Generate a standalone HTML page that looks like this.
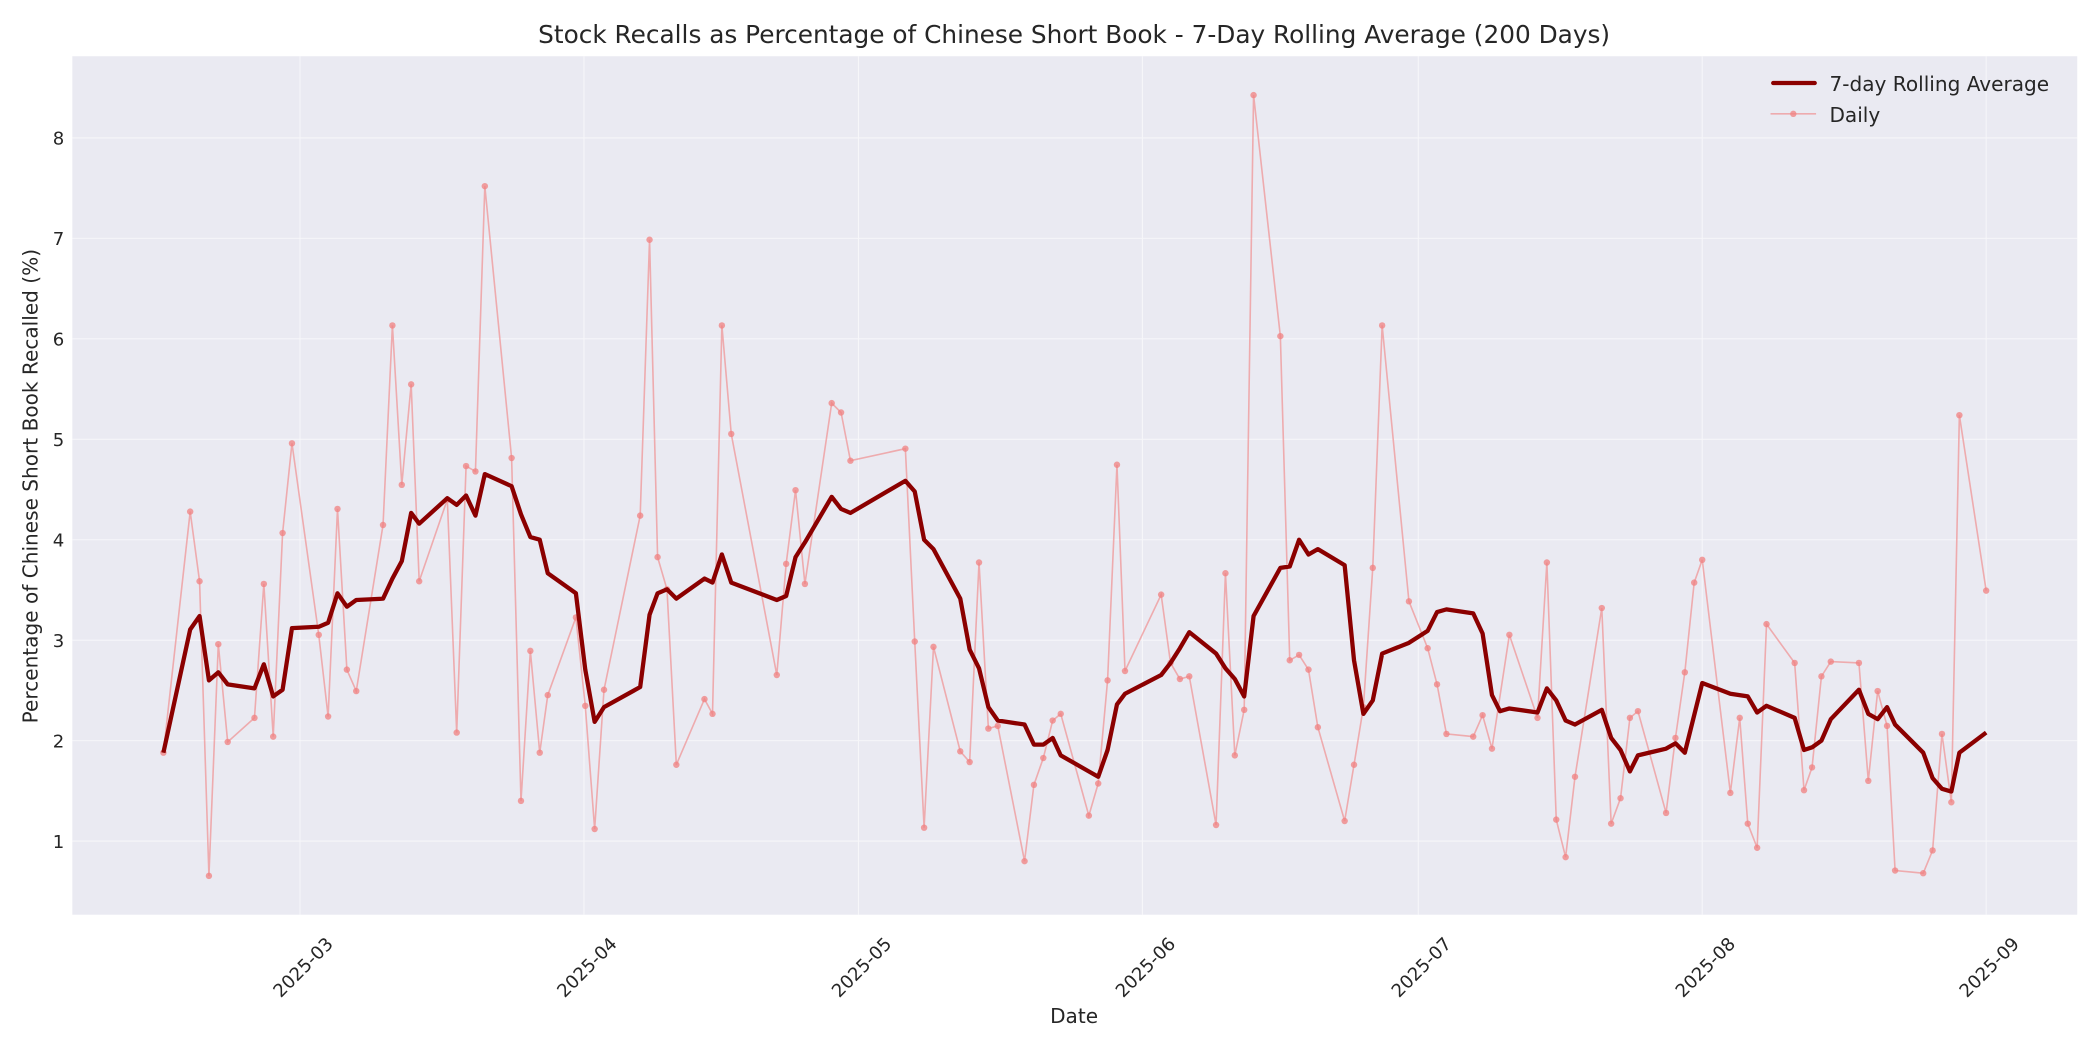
<!DOCTYPE html>
<html><head><meta charset="utf-8"><style>html,body{margin:0;padding:0;background:#fff}svg{display:block}</style></head>
<body>
<svg width="2100" height="1050" viewBox="0 0 1568 784" xmlns="http://www.w3.org/2000/svg" font-family="DejaVu Sans, Liberation Sans, sans-serif">
<rect x="0" y="0" width="1568" height="784" fill="#fff"/>
<rect x="54" y="42" width="1497" height="641" fill="#eaeaf2"/>
<g stroke="#fff" stroke-width="0.8" opacity="0.6">
<line x1="54" x2="1551" y1="628" y2="628"/><line x1="54" x2="1551" y1="553" y2="553"/><line x1="54" x2="1551" y1="478" y2="478"/><line x1="54" x2="1551" y1="403" y2="403"/><line x1="54" x2="1551" y1="328" y2="328"/><line x1="54" x2="1551" y1="253" y2="253"/><line x1="54" x2="1551" y1="178" y2="178"/><line x1="54" x2="1551" y1="103" y2="103"/>
<line y1="42" y2="683" x1="224" x2="224"/><line y1="42" y2="683" x1="436" x2="436"/><line y1="42" y2="683" x1="641" x2="641"/><line y1="42" y2="683" x1="853" x2="853"/><line y1="42" y2="683" x1="1059" x2="1059"/><line y1="42" y2="683" x1="1271" x2="1271"/><line y1="42" y2="683" x1="1483" x2="1483"/>
</g>
<g font-size="13.5" fill="#262626" text-anchor="end">
<text x="48" y="633">1</text><text x="48" y="558">2</text><text x="48" y="483">3</text><text x="48" y="408">4</text><text x="48" y="333">5</text><text x="48" y="258">6</text><text x="48" y="183">7</text><text x="48" y="108">8</text>
</g>
<g font-size="13.5" fill="#262626" text-anchor="middle">
<text transform="translate(226,722) rotate(-45)" dy="5">2025-03</text>
<text transform="translate(438,722) rotate(-45)" dy="5">2025-04</text>
<text transform="translate(643,722) rotate(-45)" dy="5">2025-05</text>
<text transform="translate(855,722) rotate(-45)" dy="5">2025-06</text>
<text transform="translate(1061,722) rotate(-45)" dy="5">2025-07</text>
<text transform="translate(1273,722) rotate(-45)" dy="5">2025-08</text>
<text transform="translate(1485,722) rotate(-45)" dy="5">2025-09</text>
</g>
<text x="802" y="32" font-size="18.5" text-anchor="middle" fill="#262626">Stock Recalls as Percentage of Chinese Short Book - 7-Day Rolling Average (200 Days)</text>
<text x="802" y="764" font-size="15" text-anchor="middle" fill="#262626">Date</text>
<text transform="translate(28,363) rotate(-90)" font-size="15" text-anchor="middle" fill="#262626">Percentage of Chinese Short Book Recalled (%)</text>
<polyline id="daily" fill="none" stroke="#f08080" stroke-opacity="0.6" stroke-width="1.2" points="122,562 142,382 149,434 156,654 163,481 170,554 190,536 197,436 204,550 211,398 218,331 238,474 245,535 252,380 259,500 266,516 286,392 293,243 300,362 307,287 313,434 334,373 341,547 348,348 355,352 362,139 382,342 389,598 396,486 403,562 409,519 430,461 437,527 444,619 451,515 478,385 485,179 491,416 498,440 505,571 526,522 532,533 539,243 546,324 580,504 587,421 594,366 601,436 621,301 628,308 635,344 676,335 683,479 690,618 697,483 717,561 724,569 731,420 738,544 745,542 765,643 772,586 779,566 786,538 792,533 813,609 820,585 827,508 834,347 840,501 867,444 874,495 881,507 888,505 908,616 915,428 922,564 929,530 936,71 956,251 963,493 970,489 977,500 984,543 1004,613 1011,571 1018,528 1025,424 1032,243 1052,449 1066,484 1073,511 1080,548 1100,550 1107,534 1114,559 1127,474 1148,536 1155,420 1162,612 1169,640 1176,580 1196,454 1203,615 1210,596 1217,536 1223,531 1244,607 1251,551 1258,502 1265,435 1271,418 1292,592 1299,536 1305,615 1312,633 1319,466 1340,495 1347,590 1353,573 1360,505 1367,494 1388,495 1395,583 1402,516 1409,542 1415,650 1436,652 1443,635 1450,548 1457,599 1463,310 1483,441"/>
<g fill="#f08080" fill-opacity="0.75" id="dots"></g>
<polyline fill="none" stroke="#8b0000" stroke-width="3.2" stroke-linejoin="round" points="122,562 142,470 149,460 156,508 163,502 170,511 190,514 197,496 204,520 211,515 218,469 238,468 245,465 252,443 259,453 266,448 286,447 293,432 300,419 307,383 313,391 334,372 341,377 348,370 355,385 362,354 382,363 389,384 396,401 403,403 409,428 430,443 437,500 444,539 451,528 478,513 485,459 491,443 498,440 505,447 526,432 532,435 539,414 546,435 580,448 587,445 594,416 601,405 621,371 628,380 635,383 676,359 683,367 690,403 697,410 717,447 724,485 731,499 738,528 745,538 765,541 772,556 779,556 786,551 792,564 813,576 820,580 827,560 834,526 840,518 867,504 874,495 881,484 888,472 908,488 915,499 922,507 929,520 936,460 956,424 963,423 970,403 977,414 984,410 1004,422 1011,493 1018,533 1025,523 1032,488 1052,480 1066,471 1073,457 1080,455 1100,458 1107,473 1114,519 1120,531 1127,529 1148,532 1155,514 1162,523 1169,538 1176,541 1196,530 1203,551 1210,560 1217,576 1223,564 1244,559 1251,555 1258,562 1271,510 1292,518 1305,520 1312,532 1319,527 1340,536 1347,560 1353,558 1360,553 1367,537 1388,515 1395,533 1402,537 1409,528 1415,541 1436,562 1443,581 1450,589 1457,591 1463,562 1483,547"/>
<line x1="1324" x2="1355" y1="62" y2="62" stroke="#8b0000" stroke-width="3.2" stroke-linecap="round"/>
<text x="1366" y="68" font-size="15" fill="#262626">7-day Rolling Average</text>
<line x1="1322" x2="1356" y1="85" y2="85" stroke="#f08080" stroke-opacity="0.6" stroke-width="1.2"/>
<circle cx="1339" cy="85" r="2.4" fill="#f08080" fill-opacity="0.75"/>
<text x="1366" y="91" font-size="15" fill="#262626">Daily</text>
<script>
var pts=document.getElementById('daily').getAttribute('points').trim().split(/\s+/);
var g=document.getElementById('dots');
pts.forEach(function(p){var a=p.split(',');var c=document.createElementNS('http://www.w3.org/2000/svg','circle');c.setAttribute('cx',a[0]);c.setAttribute('cy',a[1]);c.setAttribute('r','2.4');g.appendChild(c);});
</script>
</svg>
</body></html>
